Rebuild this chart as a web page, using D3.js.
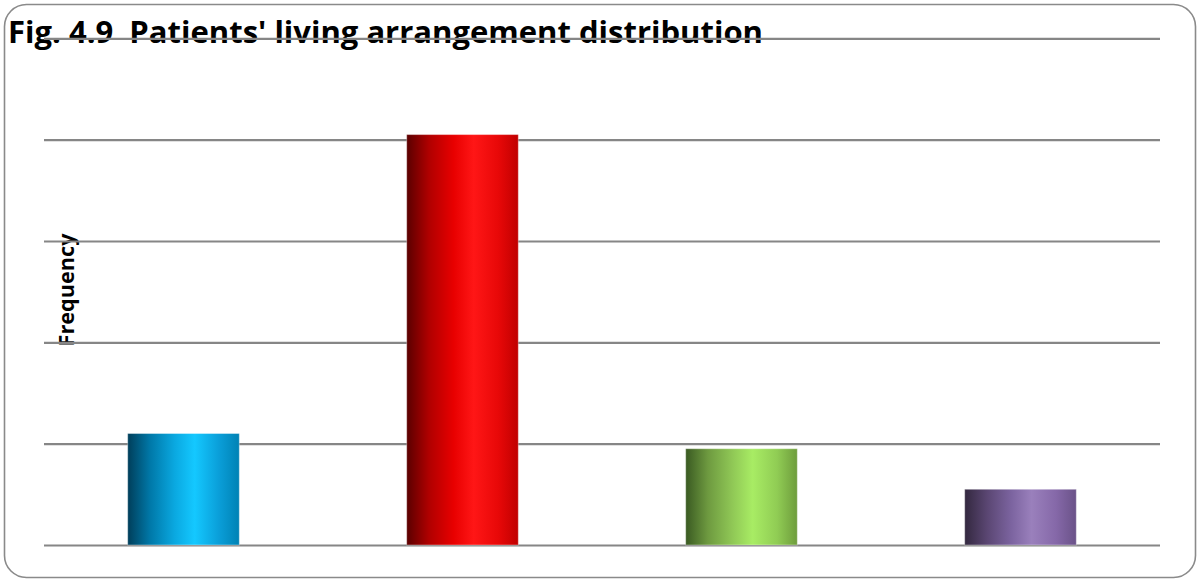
<!DOCTYPE html>
<html>
<head>
<meta charset="utf-8">
<script src="https://cdn.jsdelivr.net/npm/d3@7"></script>
<style>
  html, body { margin: 0; padding: 0; background: #fff; }
  svg { display: block; }
</style>
</head>
<body>
<svg id="chart" width="1198" height="579"></svg>
<script>
const categories = ["Alone", "With family", "With relatives", "Others"];
const values = [22, 81, 19, 11];
const tickValues = [0, 20, 40, 60, 80, 100];
const titleText = "Fig. 4.9  Patients' living arrangement distribution";
const yLabel = "Frequency";

const gradients = [
  ["#003e5a", "#0078a8", "#0aa8e0", "#14c8ff", "#0a9ed8", "#0082b4"],
  ["#5a0000", "#b00000", "#e80000", "#ff1616", "#e80808", "#c00000"],
  ["#3a5a22", "#6e9a40", "#90c856", "#a8ec64", "#90cc54", "#6e9c3c"],
  ["#33283f", "#5a4672", "#7c64a0", "#9a80bc", "#8568a8", "#6a5288"]
];

const svg = d3.select("#chart");
const W = 1198, H = 579;

svg.append("rect")
  .attr("x", 4.5).attr("y", 4.5)
  .attr("width", W - 2.5 - 4.5).attr("height", H - 1.5 - 4.5)
  .attr("rx", 22).attr("ry", 22)
  .attr("fill", "#fff").attr("stroke", "#8a8a8a").attr("stroke-width", 1.6);

const x = d3.scaleBand().domain(categories).range([44, 1160]).paddingInner(0.6).paddingOuter(0.3);
const y = d3.scaleLinear().domain([0, 100]).range([545, 38.3]);

const defs = svg.append("defs");
gradients.forEach((stops, i) => {
  const g = defs.append("linearGradient").attr("id", "g" + i)
    .attr("x1", "0%").attr("x2", "100%").attr("y1", "0%").attr("y2", "0%");
  const offs = [0, 0.2, 0.42, 0.6, 0.82, 1];
  stops.forEach((c, j) => g.append("stop").attr("offset", offs[j]).attr("stop-color", c));
});

// texts first (gridlines are drawn over them in the reference)
svg.append("text")
  .attr("x", 8).attr("y", 43)
  .style("white-space", "pre")
  .attr("font-family", "'Open Sans', sans-serif")
  .attr("font-weight", "bold")
  .attr("font-size", 30)
  .attr("textLength", 755)
  .attr("lengthAdjust", "spacingAndGlyphs")
  .attr("fill", "#000")
  .text(titleText);

svg.append("text")
  .attr("transform", "translate(74,290) rotate(-90)")
  .attr("text-anchor", "middle")
  .attr("font-family", "'Open Sans', sans-serif")
  .attr("font-weight", "bold")
  .attr("font-size", 22)
  .attr("textLength", 113)
  .attr("lengthAdjust", "spacingAndGlyphs")
  .attr("fill", "#000")
  .text(yLabel);

const yAxis = d3.axisLeft(y).tickValues(tickValues).tickSize(-(1160 - 44)).tickFormat("");
const ga = svg.append("g").attr("transform", "translate(44,0)").call(yAxis);
ga.select(".domain").remove();
ga.selectAll(".tick line").attr("stroke", "#868686").attr("stroke-width", 2.2);

svg.append("g").selectAll("rect").data(values).join("rect")
  .attr("x", (d, i) => x(categories[i]))
  .attr("width", x.bandwidth())
  .attr("y", d => y(d))
  .attr("height", d => y(0) - y(d))
  .attr("fill", (d, i) => `url(#g${i})`)
  .attr("stroke", "rgba(255,255,255,0.35)")
  .attr("stroke-width", 1);
</script>
</body>
</html>
